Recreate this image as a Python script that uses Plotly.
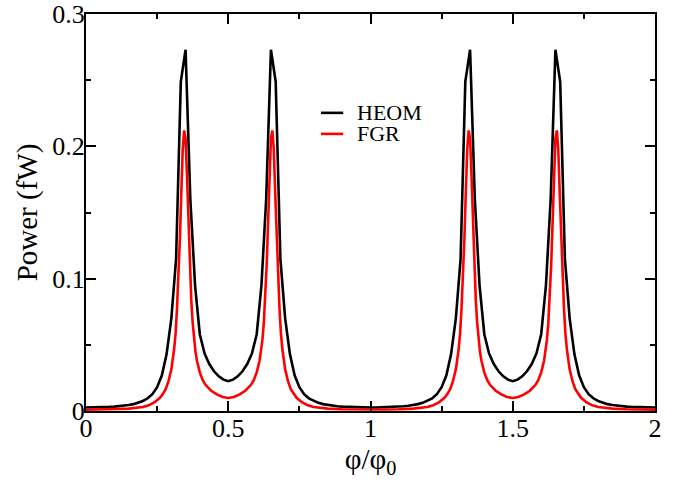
import plotly.graph_objects as go

# HEOM: sampled on a 1/60 grid in phi/phi0
phi_heom = [
    0.0000, 0.0167, 0.0333, 0.0500, 0.0667, 0.0833, 0.1000, 0.1167, 0.1333, 0.1500,
    0.1667, 0.1833, 0.2000, 0.2167, 0.2333, 0.2500, 0.2667, 0.2833, 0.3000, 0.3167,
    0.3333, 0.3500, 0.3667, 0.3833, 0.4000, 0.4167, 0.4333, 0.4500, 0.4667, 0.4833,
    0.5000, 0.5167, 0.5333, 0.5500, 0.5667, 0.5833, 0.6000, 0.6167, 0.6333, 0.6500,
    0.6667, 0.6833, 0.7000, 0.7167, 0.7333, 0.7500, 0.7667, 0.7833, 0.8000, 0.8167,
    0.8333, 0.8500, 0.8667, 0.8833, 0.9000, 0.9167, 0.9333, 0.9500, 0.9667, 0.9833,
    1.0000, 1.0167, 1.0333, 1.0500, 1.0667, 1.0833, 1.1000, 1.1167, 1.1333, 1.1500,
    1.1667, 1.1833, 1.2000, 1.2167, 1.2333, 1.2500, 1.2667, 1.2833, 1.3000, 1.3167,
    1.3333, 1.3500, 1.3667, 1.3833, 1.4000, 1.4167, 1.4333, 1.4500, 1.4667, 1.4833,
    1.5000, 1.5167, 1.5333, 1.5500, 1.5667, 1.5833, 1.6000, 1.6167, 1.6333, 1.6500,
    1.6667, 1.6833, 1.7000, 1.7167, 1.7333, 1.7500, 1.7667, 1.7833, 1.8000, 1.8167,
    1.8333, 1.8500, 1.8667, 1.8833, 1.9000, 1.9167, 1.9333, 1.9500, 1.9667, 1.9833,
    2.0000,
]
power_heom = [
    0.0026, 0.0026, 0.0027, 0.0028, 0.0029, 0.0031, 0.0033, 0.0036, 0.0040, 0.0045,
    0.0052, 0.0062, 0.0076, 0.0096, 0.0127, 0.0180, 0.0270, 0.0430, 0.0700, 0.1150,
    0.2490, 0.2730, 0.1600, 0.0950, 0.0580, 0.0435, 0.0355, 0.0300, 0.0262, 0.0237,
    0.0225, 0.0237, 0.0262, 0.0300, 0.0355, 0.0435, 0.0580, 0.0950, 0.1600, 0.2730,
    0.2490, 0.1150, 0.0700, 0.0430, 0.0270, 0.0180, 0.0127, 0.0096, 0.0076, 0.0062,
    0.0052, 0.0045, 0.0040, 0.0036, 0.0033, 0.0031, 0.0029, 0.0028, 0.0027, 0.0026,
    0.0026, 0.0026, 0.0027, 0.0028, 0.0029, 0.0031, 0.0033, 0.0036, 0.0040, 0.0045,
    0.0052, 0.0062, 0.0076, 0.0096, 0.0127, 0.0180, 0.0270, 0.0430, 0.0700, 0.1150,
    0.2490, 0.2730, 0.1600, 0.0950, 0.0580, 0.0435, 0.0355, 0.0300, 0.0262, 0.0237,
    0.0225, 0.0237, 0.0262, 0.0300, 0.0355, 0.0435, 0.0580, 0.0950, 0.1600, 0.2730,
    0.2490, 0.1150, 0.0700, 0.0430, 0.0270, 0.0180, 0.0127, 0.0096, 0.0076, 0.0062,
    0.0052, 0.0045, 0.0040, 0.0036, 0.0033, 0.0031, 0.0029, 0.0028, 0.0027, 0.0026,
    0.0026,
]

# FGR: finer sampling around the resonances
phi_fgr = [
    0.000, 0.050, 0.100, 0.150, 0.200, 0.220, 0.240, 0.260, 0.270, 0.280,
    0.290, 0.300, 0.310, 0.315, 0.320, 0.325, 0.330, 0.335, 0.340, 0.345,
    0.350, 0.355, 0.360, 0.365, 0.370, 0.375, 0.380, 0.385, 0.390, 0.400, 0.410,
    0.420, 0.440, 0.460, 0.480, 0.500, 0.520, 0.540, 0.560, 0.580, 0.590,
    0.600, 0.610, 0.615, 0.620, 0.625, 0.630, 0.635, 0.640, 0.645, 0.650, 0.655,
    0.660, 0.665, 0.670, 0.675, 0.680, 0.685, 0.690, 0.700, 0.710, 0.720,
    0.730, 0.740, 0.760, 0.780, 0.800, 0.850, 0.900, 0.950, 1.000,
    1.050, 1.100, 1.150, 1.200, 1.220, 1.240, 1.260, 1.270, 1.280,
    1.290, 1.300, 1.310, 1.315, 1.320, 1.325, 1.330, 1.335, 1.340, 1.345,
    1.350, 1.355, 1.360, 1.365, 1.370, 1.375, 1.380, 1.385, 1.390, 1.400, 1.410,
    1.420, 1.440, 1.460, 1.480, 1.500, 1.520, 1.540, 1.560, 1.580, 1.590,
    1.600, 1.610, 1.615, 1.620, 1.625, 1.630, 1.635, 1.640, 1.645, 1.650, 1.655,
    1.660, 1.665, 1.670, 1.675, 1.680, 1.685, 1.690, 1.700, 1.710, 1.720,
    1.730, 1.740, 1.760, 1.780, 1.800, 1.850, 1.900, 1.950, 2.000,
]
power_fgr = [
    0.0010, 0.0011, 0.0013, 0.0018, 0.0030, 0.0043, 0.0065, 0.0100, 0.0128, 0.0165,
    0.0225, 0.0315, 0.0470, 0.0590, 0.0780, 0.1000, 0.1300, 0.1650, 0.1980, 0.2120,
    0.2060, 0.1780, 0.1420, 0.1100, 0.0840, 0.0665, 0.0535, 0.0445, 0.0380, 0.0292, 0.0235,
    0.0198, 0.0153, 0.0125, 0.0106, 0.0098, 0.0106, 0.0125, 0.0153, 0.0198, 0.0235,
    0.0292, 0.0380, 0.0445, 0.0535, 0.0665, 0.0840, 0.1100, 0.1420, 0.1780, 0.2060, 0.2120,
    0.1980, 0.1650, 0.1300, 0.1000, 0.0780, 0.0590, 0.0470, 0.0315, 0.0225, 0.0165,
    0.0128, 0.0100, 0.0065, 0.0043, 0.0030, 0.0018, 0.0013, 0.0011, 0.0010,
    0.0011, 0.0013, 0.0018, 0.0030, 0.0043, 0.0065, 0.0100, 0.0128, 0.0165,
    0.0225, 0.0315, 0.0470, 0.0590, 0.0780, 0.1000, 0.1300, 0.1650, 0.1980, 0.2120,
    0.2060, 0.1780, 0.1420, 0.1100, 0.0840, 0.0665, 0.0535, 0.0445, 0.0380, 0.0292, 0.0235,
    0.0198, 0.0153, 0.0125, 0.0106, 0.0098, 0.0106, 0.0125, 0.0153, 0.0198, 0.0235,
    0.0292, 0.0380, 0.0445, 0.0535, 0.0665, 0.0840, 0.1100, 0.1420, 0.1780, 0.2060, 0.2120,
    0.1980, 0.1650, 0.1300, 0.1000, 0.0780, 0.0590, 0.0470, 0.0315, 0.0225, 0.0165,
    0.0128, 0.0100, 0.0065, 0.0043, 0.0030, 0.0018, 0.0013, 0.0011, 0.0010,
]

series_names = ["HEOM", "FGR"]
series_colors = ["black", "#ff0000"]

x_ticks = [0, 0.5, 1, 1.5, 2]
x_ticklabels = ["0", "0.5", "1", "1.5", "2"]
y_ticks = [0, 0.1, 0.2, 0.3]
y_ticklabels = ["0", "0.1", "0.2", "0.3"]

FONT = "Liberation Serif, Times New Roman, serif"

fig = go.Figure()
fig.add_trace(go.Scatter(x=phi_heom, y=power_heom, mode="lines", name=series_names[0],
                         line=dict(color=series_colors[0], width=2.6)))
fig.add_trace(go.Scatter(x=phi_fgr, y=power_fgr, mode="lines", name=series_names[1],
                         line=dict(color=series_colors[1], width=2.6)))

axis_common = dict(
    showgrid=False, zeroline=False, showline=True, linecolor="black", linewidth=2,
    mirror="ticks", ticks="inside", ticklen=10, tickwidth=1.5, tickcolor="black",
    tickfont=dict(family=FONT, size=26, color="black"), automargin=False,
    ticklabeloverflow="allow",
)

fig.update_xaxes(
    range=[0, 2], tickvals=x_ticks, ticktext=x_ticklabels, ticklabelstandoff=-7,
    minor=dict(ticks="inside", ticklen=5, tickwidth=1.5, tickcolor="black", dtick=0.25),
    title=dict(text="φ/φ<sub>0</sub>", font=dict(family=FONT, size=29, color="black"), standoff=4),
    **axis_common,
)
fig.update_yaxes(
    range=[0, 0.3], tickvals=y_ticks, ticktext=y_ticklabels, ticklabelstandoff=-6,
    minor=dict(ticks="inside", ticklen=5, tickwidth=1.5, tickcolor="black", dtick=0.05),
    title=dict(text="Power (fW)", font=dict(family=FONT, size=29, color="black"), standoff=6),
    **axis_common,
)

# Custom legend (short line samples, tight spacing as in the original)
legend_y = [0.751, 0.698]
for name, color, ly in zip(series_names, series_colors, legend_y):
    fig.add_shape(type="line", xref="paper", yref="paper", x0=0.413, x1=0.452, y0=ly, y1=ly,
                  line=dict(color=color, width=2.6))
    fig.add_annotation(x=0.473, y=ly, xref="paper", yref="paper", text=name, showarrow=False,
                       xanchor="left", yanchor="middle",
                       font=dict(family=FONT, size=22, color="black"))

fig.update_layout(
    width=688, height=483,
    margin=dict(l=86, r=33, t=14, b=72),
    plot_bgcolor="white", paper_bgcolor="white",
    showlegend=False,
)

# remove the browser's default 8px page margin so the figure fills the window
fig.write_html("out.html", config={"displayModeBar": False},
               post_script="document.body.style.margin='0px';")
